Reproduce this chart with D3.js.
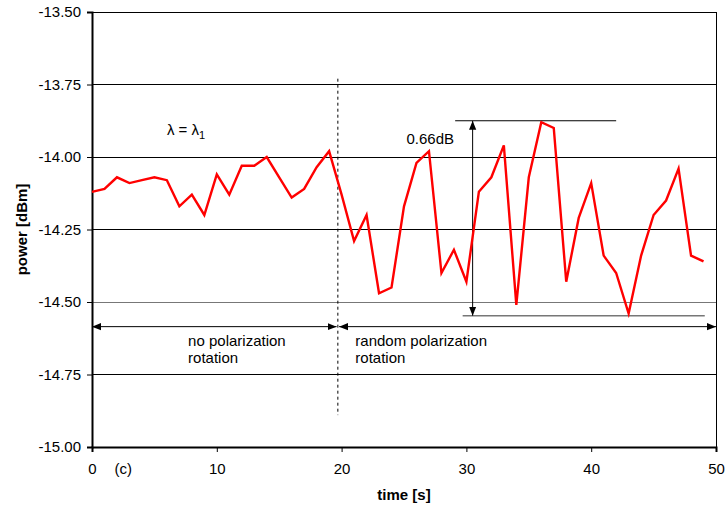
<!DOCTYPE html>
<html>
<head>
<meta charset="utf-8">
<script src="https://cdn.jsdelivr.net/npm/d3@7"></script>
<style>
  body { margin: 0; background: #fff; }
  svg text { font-family: "Liberation Sans", Arial, sans-serif; fill: #000; }
</style>
</head>
<body>
<div id="chart"></div>
<script>
// power readings, one per second
const times = d3.range(0, 50);
const power = [
  -14.12, -14.11, -14.07, -14.09, -14.08, -14.07, -14.08, -14.17, -14.13, -14.20,
  -14.06, -14.13, -14.03, -14.03, -14.00, -14.07, -14.14, -14.11, -14.035, -13.98,
  -14.13, -14.29, -14.20, -14.47, -14.45, -14.17, -14.02, -13.98, -14.40, -14.32,
  -14.43, -14.12, -14.07, -13.96, -14.51, -14.07, -13.88, -13.90, -14.43, -14.21,
  -14.09, -14.34, -14.40, -14.54, -14.34, -14.20, -14.15, -14.04, -14.34, -14.36
];
const yTicks = [-13.5, -13.75, -14.0, -14.25, -14.5, -14.75, -15.0];
const xTicks = [0, 10, 20, 30, 40, 50];

const width = 725, height = 508;
const margin = {top: 12, right: 9, bottom: 61, left: 92};
const fs = 15;

const svg = d3.select("#chart").append("svg")
    .attr("width", width)
    .attr("height", height);

const x = d3.scaleLinear().domain([0, 50]).range([margin.left, width - margin.right]);
const y = d3.scaleLinear().domain([-15, -13.5]).range([height - margin.bottom, margin.top]);

// arrow markers
const defs = svg.append("defs");
defs.append("marker")
    .attr("id", "arr")
    .attr("viewBox", "0 0 10 10")
    .attr("refX", 10).attr("refY", 5)
    .attr("markerWidth", 9).attr("markerHeight", 9)
    .attr("markerUnits", "userSpaceOnUse")
    .attr("orient", "auto-start-reverse")
    .append("path").attr("d", "M0,1 L10,5 L0,9 Z").attr("fill", "#000");

// gridlines
svg.append("g")
    .selectAll("line")
    .data(yTicks)
    .join("line")
    .attr("x1", x(0)).attr("x2", x(50))
    .attr("y1", d => y(d)).attr("y2", d => y(d))
    .attr("stroke", d => d === -14.5 ? "#777" : "#000")
    .attr("stroke-width", 1)
    .attr("shape-rendering", "crispEdges");

// right border
svg.append("line")
    .attr("x1", x(50)).attr("x2", x(50))
    .attr("y1", y(-13.5)).attr("y2", y(-15))
    .attr("stroke", "#000").attr("shape-rendering", "crispEdges");

// axes
const yAxis = svg.append("g")
    .attr("transform", `translate(${x(0)},0)`)
    .call(d3.axisLeft(y).tickValues(yTicks).tickFormat(d => d.toFixed(2)).tickSize(5).tickPadding(6));
yAxis.select(".domain").attr("stroke-width", 2);

const xAxis = svg.append("g")
    .attr("transform", `translate(0,${y(-15)})`)
    .call(d3.axisBottom(x).tickValues(xTicks).tickFormat(d => String(d)).tickSize(5).tickPadding(11));
xAxis.select(".domain").attr("stroke-width", 2);

svg.selectAll(".tick text").attr("font-size", fs).attr("font-family", "Liberation Sans, Arial, sans-serif");
svg.selectAll(".tick line").attr("stroke", "#000");

// axis titles
svg.append("text")
    .attr("x", x(25)).attr("y", 500)
    .attr("text-anchor", "middle")
    .attr("font-size", fs).attr("font-weight", "bold")
    .text("time [s]");

svg.append("text")
    .attr("transform", `translate(27,${y(-14.25)}) rotate(-90)`)
    .attr("text-anchor", "middle")
    .attr("font-size", fs).attr("font-weight", "bold")
    .text("power [dBm]");

svg.append("text")
    .attr("x", x(1.8)).attr("y", 474)
    .attr("font-size", fs)
    .text("(c)");

// dashed divider between the two regimes
svg.append("line")
    .attr("x1", x(19.7)).attr("x2", x(19.7))
    .attr("y1", y(-13.73)).attr("y2", y(-14.89))
    .attr("stroke", "#000").attr("stroke-dasharray", "3,3");

// double arrows for the two regimes
svg.append("line")
    .attr("x1", x(0)).attr("x2", x(19.6))
    .attr("y1", y(-14.585)).attr("y2", y(-14.585))
    .attr("stroke", "#000")
    .attr("marker-start", "url(#arr)").attr("marker-end", "url(#arr)");
svg.append("line")
    .attr("x1", x(19.8)).attr("x2", x(50))
    .attr("y1", y(-14.585)).attr("y2", y(-14.585))
    .attr("stroke", "#000")
    .attr("marker-start", "url(#arr)").attr("marker-end", "url(#arr)");

const lab = svg.append("g").attr("font-size", fs);
lab.append("text").attr("x", x(7.7)).attr("y", y(-14.652)).text("no polarization");
lab.append("text").attr("x", x(7.7)).attr("y", y(-14.71)).text("rotation");
lab.append("text").attr("x", x(21.1)).attr("y", y(-14.652)).text("random polarization");
lab.append("text").attr("x", x(21.1)).attr("y", y(-14.71)).text("rotation");

// lambda label
const lam = svg.append("text")
    .attr("x", x(6)).attr("y", y(-13.924))
    .attr("font-size", fs);
lam.append("tspan").text("\u03bb = \u03bb");
lam.append("tspan").attr("dy", 4).attr("font-size", 11).text("1");

// 0.66 dB span
svg.append("line")
    .attr("x1", x(29.1)).attr("x2", x(42))
    .attr("y1", y(-13.875)).attr("y2", y(-13.875))
    .attr("stroke", "#000");
svg.append("line")
    .attr("x1", x(29.7)).attr("x2", x(49.1))
    .attr("y1", y(-14.547)).attr("y2", y(-14.547))
    .attr("stroke", "#777").attr("stroke-width", 1.5);
svg.append("line")
    .attr("x1", x(30.5)).attr("x2", x(30.5))
    .attr("y1", y(-13.875)).attr("y2", y(-14.547))
    .attr("stroke", "#000")
    .attr("marker-start", "url(#arr)").attr("marker-end", "url(#arr)");
svg.append("text")
    .attr("x", x(25.2)).attr("y", y(-13.955))
    .attr("font-size", fs)
    .text("0.66dB");

// power trace
const line = d3.line()
    .x((d, i) => x(times[i]))
    .y(d => y(d));

svg.append("path")
    .datum(power)
    .attr("fill", "none")
    .attr("stroke", "#ff0000")
    .attr("stroke-width", 2.4)
    .attr("stroke-linejoin", "miter")
    .attr("d", line);
</script>
</body>
</html>
